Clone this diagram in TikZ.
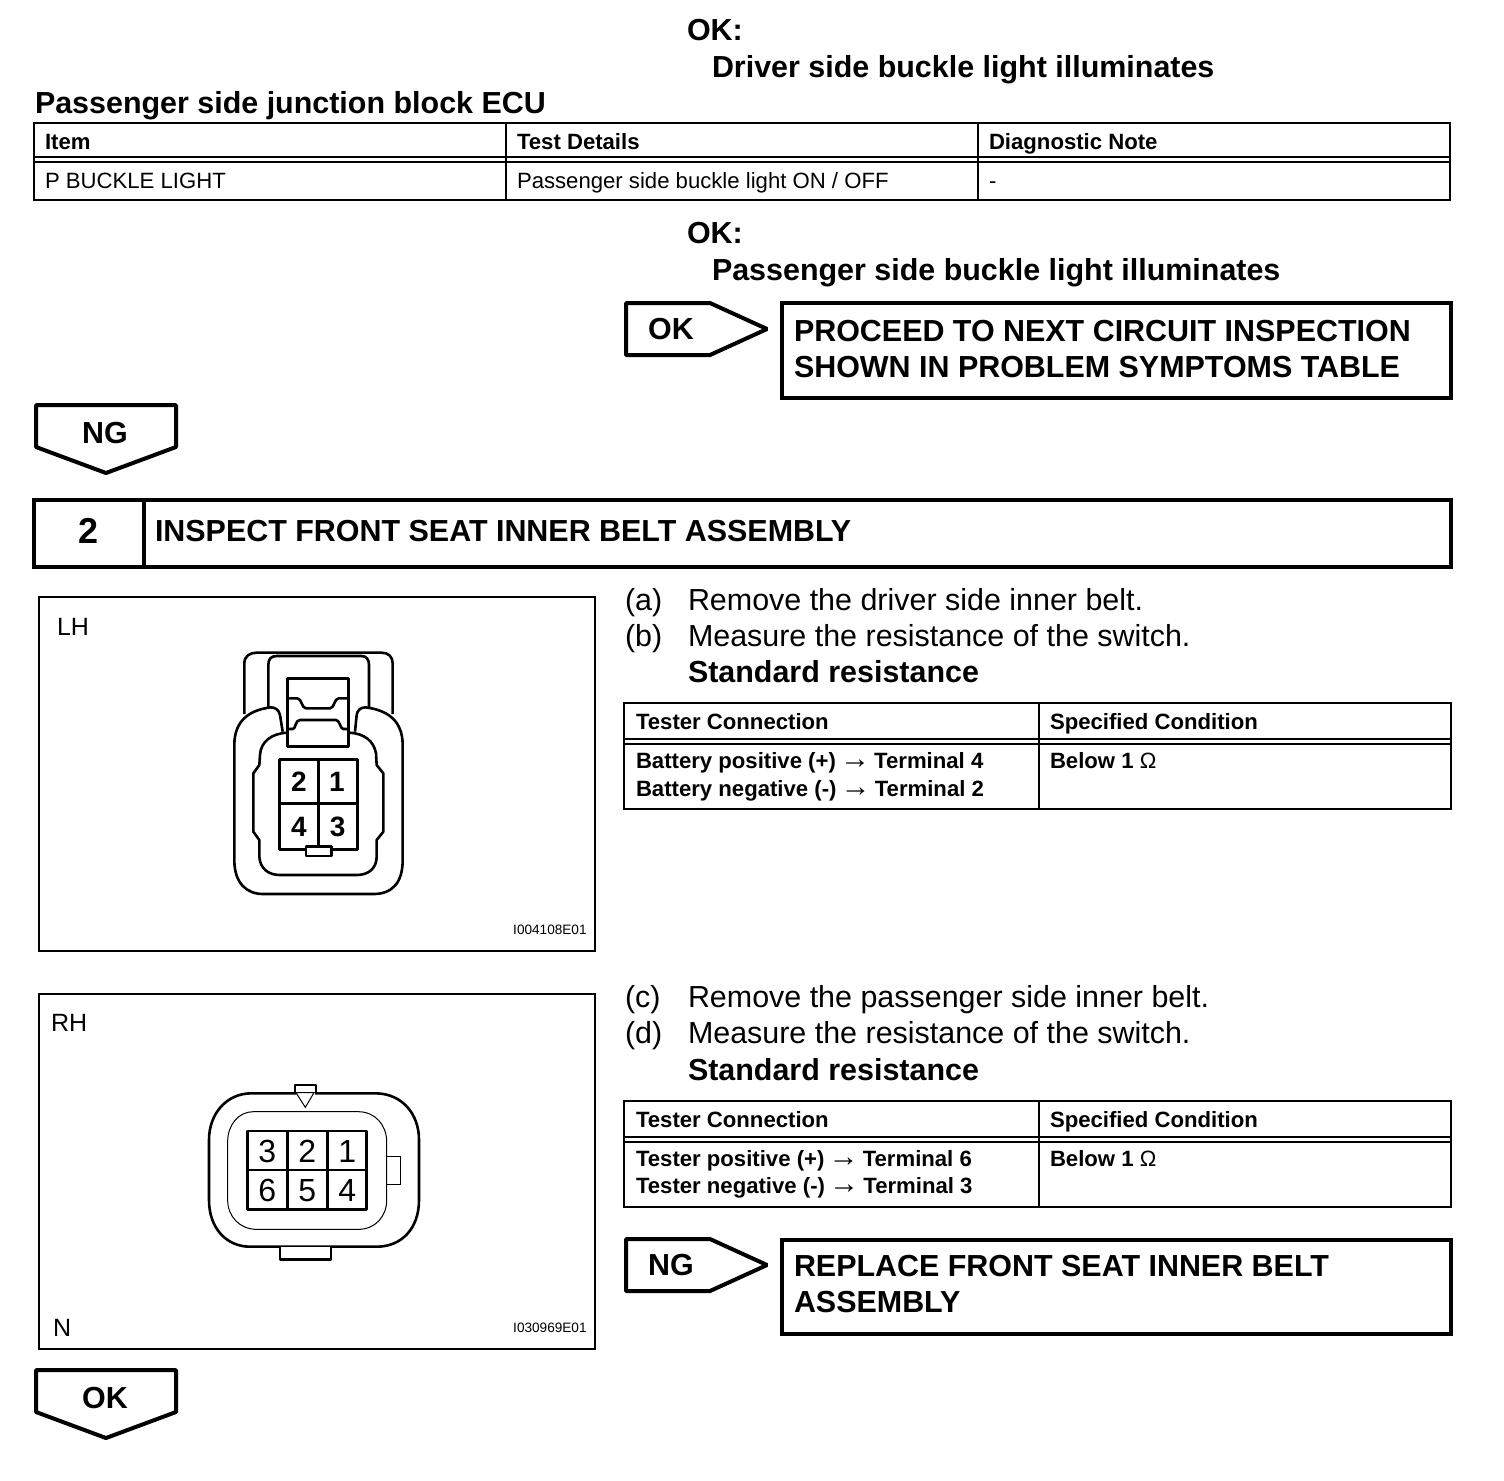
\documentclass[tikz,border=0pt]{standalone}
\usepackage{fontspec}
\setmainfont{Liberation Sans}
\newcommand{\thinarrow}{{\kern-1pt\mdseries\fontsize{15}{15}\selectfont →\kern-1pt}}
\tikzset{
 txt/.style={anchor=base west,inner sep=0pt,outer sep=0pt,text=black},
 lead/.style={txt,font=\fontsize{15.22}{18}\selectfont\bfseries},
 plain/.style={txt,font=\fontsize{15.22}{18}\selectfont},
 tabh/.style={txt,font=\fontsize{11.07}{14}\selectfont\bfseries},
 tabr/.style={txt,font=\fontsize{11.07}{14}\selectfont},
 lab/.style={txt,font=\fontsize{12.5}{15}\selectfont},
 code/.style={anchor=base east,inner sep=0pt,font=\fontsize{6.8}{8}\selectfont},
 flag/.style={anchor=center,inner sep=0pt,font=\fontsize{15.22}{18}\selectfont\bfseries},
 heavy/.style={line width=2pt,draw=black,line join=miter},
 arrowbox/.style={line width=2pt,draw=black,line join=bevel},
 mid/.style={line width=1pt,draw=black},
 part/.style={line width=1.3pt,draw=black,line join=round},
 fine/.style={line width=0.5pt,draw=black},
 pinb/.style={anchor=center,inner sep=0pt,font=\fontsize{14}{16}\selectfont\bfseries},
 pinr/.style={anchor=center,inner sep=0pt,font=\fontsize{16}{18}\selectfont},
}
\begin{document}
\begin{tikzpicture}[x=0.5pt,y=-0.5pt]
\useasboundingbox (0,0) rectangle (1504,1480);
% top block
\node[lead] (ok1) at (687,40) {OK:};
\node[lead] (ok1t) at (712,77) {Driver side buckle light illuminates};
\node[lead] (ecu) at (35,113) {Passenger side junction block ECU};
% table 1
\draw[mid] (34,123) rectangle (1450,200);
\draw[mid] (34,157) -- (1450,157) (34,162) -- (1450,162);
\draw[mid] (506,123) -- (506,200) (978,123) -- (978,200);
\node[tabh] (t1a) at (45,149) {Item};
\node[tabh] (t1b) at (517,149) {Test Details};
\node[tabh] (t1c) at (989,149) {Diagnostic Note};
\node[tabr] (t1d) at (45,188) {P BUCKLE LIGHT};
\node[tabr] (t1e) at (517,188) {Passenger side buckle light ON / OFF};
\node[tabr] (t1f) at (989,188) {-};
\node[lead] (ok2) at (687,243) {OK:};
\node[lead] (ok2t) at (712,280) {Passenger side buckle light illuminates};
% OK arrow
\draw[arrowbox] (626,303) -- (710,303) -- (767,329) -- (710,355) -- (626,355) -- cycle;
\node[flag] (okf) at (671,329) {OK};
\draw[heavy] (782,303) rectangle (1451,398);
\node[lead] (pr1) at (794,341) {PROCEED TO NEXT CIRCUIT INSPECTION};
\node[lead] (pr2) at (794,377) {SHOWN IN PROBLEM SYMPTOMS TABLE};
% NG down
\draw[arrowbox] (36,405) -- (176,405) -- (176,447) -- (106,473) -- (36,447) -- cycle;
\node[flag] (ngf) at (105,433) {NG};
% step
\draw[heavy] (34,500) rectangle (1451,567);
\draw[heavy] (144,500) -- (144,567);
\node[anchor=center,inner sep=0pt,font=\fontsize{18}{20}\selectfont\bfseries] (num) at (89,531) {2};
\node[lead] (insp) at (155,541) {INSPECT FRONT SEAT INNER BELT ASSEMBLY};
% figure frames
\draw[mid] (39,597) rectangle (595,951);
\draw[mid] (39,994) rectangle (595,1349);
\node[lab] (lh) at (57,635) {LH};
\node[lab] (rh) at (51,1031) {RH};
\node[lab] (nn) at (53,1336) {N};
\node[code] (c1) at (587,934) {I004108E01};
\node[code] (c2) at (587,1332) {I030969E01};
% LH connector
\begin{scope}[shift={(200,630)},x=0.1666667pt,y=-0.1666667pt]
\draw[part] (133,252) -- (133,100) .. controls (133,78) and (150,68) .. (170,68) -- (545,68) .. controls (565,68) and (578,80) .. (578,100) -- (578,252);
\draw[part] (205,232) -- (205,105) .. controls (205,88) and (212,78) .. (230,78) -- (485,78) .. controls (500,78) and (507,90) .. (507,105) -- (507,232);
\draw[part] (248,305) -- (240,255) .. controls (236,238) and (225,232) .. (212,232) .. controls (150,240) and (103,270) .. (103,345) -- (103,690) .. controls (103,760) and (140,792) .. (190,792) -- (520,792) .. controls (575,792) and (608,760) .. (608,690) -- (608,345) .. controls (608,270) and (560,240) .. (497,232) .. controls (482,232) and (472,240) .. (470,255) -- (465,305);
\draw[part] (262,308) .. controls (215,310) and (182,335) .. (180,375) -- (178,405) -- (160,430) -- (160,605) -- (178,630) -- (178,680) .. controls (180,715) and (205,735) .. (240,735) -- (470,735) .. controls (505,735) and (530,715) .. (530,680) -- (530,630) -- (550,605) -- (550,430) -- (530,405) -- (528,370) .. controls (522,335) and (495,310) .. (447,308);
\draw[part,line width=1.6pt] (262,145) rectangle (445,350);
\draw[part] (262,205) -- (292,205) .. controls (305,205) and (305,235) .. (318,235) -- (390,235) .. controls (403,235) and (403,205) .. (416,205) -- (445,205);
\draw[part] (262,297) -- (278,297) .. controls (288,297) and (285,270) .. (300,270) -- (408,270) .. controls (420,270) and (420,297) .. (430,297) -- (445,297);
\draw[part,line width=1.6pt] (238,388) rectangle (472,658);
\draw[part] (355,388) -- (355,658) (238,520) -- (472,520);
\draw[part,fill=white] (318,650) rectangle (395,678);
\node[pinb] (l2) at (297,455) {2};
\node[pinb] (l1) at (411,455) {1};
\node[pinb] (l4) at (297,590) {4};
\node[pinb] (l3) at (413,590) {3};
\end{scope}
% RH connector
\begin{scope}[shift={(190,1070)},x=0.1666667pt,y=-0.1666667pt]
\draw[part] (180,70) .. controls (110,72) and (57,130) .. (57,210) -- (57,390) .. controls (57,475) and (110,530) .. (180,530) -- (560,530) .. controls (635,530) and (687,475) .. (687,390) -- (687,210) .. controls (687,130) and (635,72) .. (560,70) -- cycle;
\draw[fine] (190,125) .. controls (145,125) and (113,165) .. (113,215) -- (113,390) .. controls (113,440) and (150,478) .. (200,478) -- (505,478) .. controls (555,478) and (590,440) .. (590,390) -- (590,215) .. controls (590,165) and (555,125) .. (505,125) -- cycle;
\draw[part,fill=white] (315,70) -- (315,45) -- (378,45) -- (378,70);
\fill[white] (318,60) rectangle (375,80);
\draw[fine] (318,68) -- (372,68) -- (346,112) -- cycle;
\draw[fine] (590,260) -- (632,260) -- (632,342) -- (590,342);
\draw[part,fill=white] (270,530) -- (270,568) -- (423,568) -- (423,530);
\draw[part,line width=1.3pt] (172,183) rectangle (530,418);
\draw[part] (292,183) -- (292,418) (412,183) -- (412,418) (172,300) -- (530,300);
\node[pinr] (r3) at (232,245) {3};
\node[pinr] (r2) at (352,245) {2};
\node[pinr] (r1) at (472,245) {1};
\node[pinr] (r6) at (232,362) {6};
\node[pinr] (r5) at (352,362) {5};
\node[pinr] (r4) at (472,362) {4};
\end{scope}
% steps a b
\node[plain] (sa) at (625,610) {(a)};
\node[plain] (sat) at (688,610) {Remove the driver side inner belt.};
\node[plain] (sb) at (625,646) {(b)};
\node[plain] (sbt) at (688,646) {Measure the resistance of the switch.};
\node[lead] (std1) at (688,682) {Standard resistance};
% table 2
\draw[mid] (624,703) rectangle (1451,809);
\draw[mid] (624,739) -- (1451,739) (624,744) -- (1451,744);
\draw[mid] (1039,703) -- (1039,809);
\node[tabh] (t2a) at (636,729) {Tester Connection};
\node[tabh] (t2b) at (1050,729) {Specified Condition};
\node[tabh] (t2c) at (636,768) {Battery positive (+) \thinarrow{} Terminal 4};
\node[tabh] (t2d) at (636,796) {Battery negative (-) \thinarrow{} Terminal 2};
\node[tabh] (t2e) at (1050,768) {Below 1 {\mdseries Ω}};
% steps c d
\node[plain] (sc) at (625,1007) {(c)};
\node[plain] (sct) at (688,1007) {Remove the passenger side inner belt.};
\node[plain] (sd) at (625,1043) {(d)};
\node[plain] (sdt) at (688,1043) {Measure the resistance of the switch.};
\node[lead] (std2) at (688,1080) {Standard resistance};
% table 3
\draw[mid] (624,1101) rectangle (1451,1207);
\draw[mid] (624,1137) -- (1451,1137) (624,1142) -- (1451,1142);
\draw[mid] (1039,1101) -- (1039,1207);
\node[tabh] (t3a) at (636,1127) {Tester Connection};
\node[tabh] (t3b) at (1050,1127) {Specified Condition};
\node[tabh] (t3c) at (636,1166) {Tester positive (+) \thinarrow{} Terminal 6};
\node[tabh] (t3d) at (636,1193) {Tester negative (-) \thinarrow{} Terminal 3};
\node[tabh] (t3e) at (1050,1166) {Below 1 {\mdseries Ω}};
% NG arrow
\draw[arrowbox] (626,1239) -- (710,1239) -- (767,1265) -- (710,1291) -- (626,1291) -- cycle;
\node[flag] (ngr) at (671,1265) {NG};
\draw[heavy] (782,1240) rectangle (1451,1334);
\node[lead] (re1) at (794,1276) {REPLACE FRONT SEAT INNER BELT};
\node[lead] (re2) at (794,1312) {ASSEMBLY};
% OK down
\draw[arrowbox] (36,1370) -- (176,1370) -- (176,1412) -- (106,1438) -- (36,1412) -- cycle;
\node[flag] (okd) at (105,1398) {OK};
\end{tikzpicture}
\end{document}
